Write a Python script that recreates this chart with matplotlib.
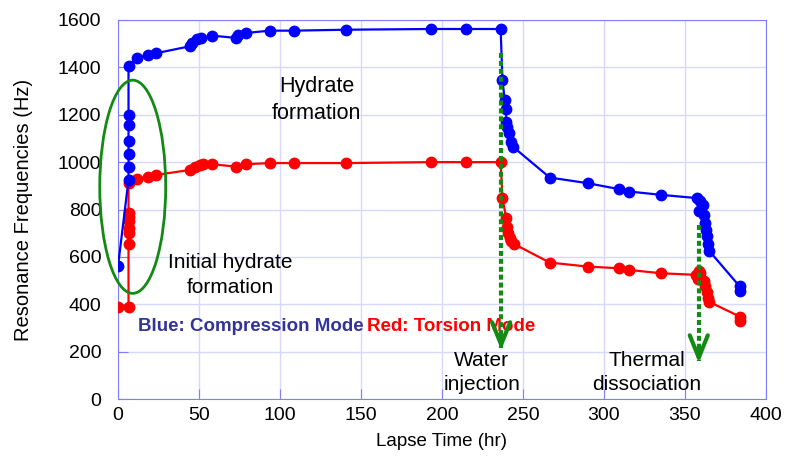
import matplotlib.pyplot as plt
from matplotlib.patches import Ellipse

plt.rcParams['font.family'] = ['Liberation Sans', 'DejaVu Sans']

# compression mode (blue)
t_blue = [0, 6.5, 6.5, 6.5, 6.5, 6.5, 6.5, 6.5, 11.7, 18.5, 23.7, 44.3, 45.9, 48.8,
          51.5, 58.3, 73.1, 74.1, 78.8, 93.6, 108.5, 141, 193.4, 215, 236.2,
          237.3, 238.7, 239.3, 239.7, 240.4, 241.4, 242.8, 243.8, 266.5, 290,
          309.3, 315.4, 335, 357.5, 359.5, 361, 358.5, 361.5, 362.5, 363, 363.5,
          364, 365, 383.8, 384.2]
f_blue = [560, 925, 980, 1035, 1090, 1155, 1200, 1405, 1440, 1453, 1460, 1489, 1503, 1520,
          1524, 1534, 1524, 1538, 1545, 1555, 1555, 1559, 1562, 1562, 1562,
          1348, 1263, 1224, 1170, 1147, 1122, 1085, 1065, 935, 911,
          886, 876, 862, 848, 835, 820, 793, 775, 745, 715, 688,
          655, 625, 475, 455]

# torsion mode (red)
t_red = [0, 6.5, 6.5, 6.5, 6.5, 6.5, 6.5, 6.5, 6.5, 11.7, 18.5, 23.7, 44.3, 47.3,
         50.4, 52.5, 58.3, 73, 78.8, 93.6, 108.5, 141, 193.4, 215, 236.2,
         237.3, 239.7, 240.1, 240.7, 241.8, 242.8, 244.3, 266.5, 290, 309.3,
         315.4, 335, 357, 358.5, 359.5, 358, 361.5, 362.5, 363.5, 364.5, 365,
         383.8, 384.2]
f_red = [390, 390, 655, 700, 720, 750, 770, 785, 910, 929, 939, 946, 967, 981,
         989, 991, 991, 981, 991, 996, 996, 996, 1000, 1000, 1000,
         848, 763, 728, 700, 679, 665, 655, 576, 559, 552,
         545, 531, 524, 540, 530, 505, 500, 475, 450, 425, 410,
         348, 330]

# event arrows: x, start, tip
arrows = [(236.5, 1460, 195), (358.5, 735, 140)]

fig, ax = plt.subplots(figsize=(7.85, 4.65), dpi=100)
fig.subplots_adjust(left=0.1503, right=0.9758, bottom=0.1419, top=0.957)

ax.plot(t_blue, f_blue, '-o', color='#0000ff', lw=1.6, ms=7.5, zorder=4)
ax.plot(t_red, f_red, '-o', color='#ff0000', lw=1.6, ms=7.5, zorder=3)

for x, y0, y1 in arrows:
    ax.plot([x, x], [y0, y1 + 20], color='#138a13', lw=3, ls=(0, (1.2, 0.7)), zorder=5)
    ax.annotate('', xy=(x, y1), xytext=(x, y1 + 90),
                arrowprops=dict(arrowstyle='->,head_length=1.6,head_width=0.65',
                                color='#138a13', lw=3), zorder=5)

ax.add_patch(Ellipse((9.1, 896), 40.7, 900, fill=False, ec='#138a13', lw=2,
                     zorder=6, clip_on=False))

kw = dict(ha='center', va='center', fontsize=15.5, linespacing=1.35)
ax.text(122.7, 1263, 'Hydrate\nformation', **kw)
ax.text(69.6, 524, 'Initial hydrate\nformation', **dict(kw, fontsize=15))
ax.text(224.5, 112, 'Water\ninjection', **dict(kw, fontsize=15))
ax.text(326.5, 112, 'Thermal\ndissociation', **dict(kw, fontsize=15))
ax.text(12.2, 308, 'Blue: Compression Mode', color='#333399', fontweight='bold',
        fontsize=13.5, va='center', ha='left')
ax.text(154, 308, 'Red: Torsion Mode', color='#ff0000', fontweight='bold',
        fontsize=13.5, va='center', ha='left')

ax.set_xlim(0, 400)
ax.set_ylim(0, 1600)
ax.set_xticks(range(0, 401, 50))
ax.set_yticks(range(0, 1601, 200))
ax.grid(True, color='#d8d8ff', lw=1)
ax.set_axisbelow(True)
for s in ax.spines.values():
    s.set_color('#8080ff')
ax.tick_params(direction='in', length=7, color='#8080ff', labelsize=14)
ax.tick_params(axis='y', pad=12)
ax.tick_params(axis='x', pad=6)
ax.set_xlabel('Lapse Time (hr)', fontsize=13.5, labelpad=6)
ax.set_ylabel('Resonance Frequencies (Hz)', fontsize=14.5, labelpad=18)

fig.savefig('out.png', dpi=100)
